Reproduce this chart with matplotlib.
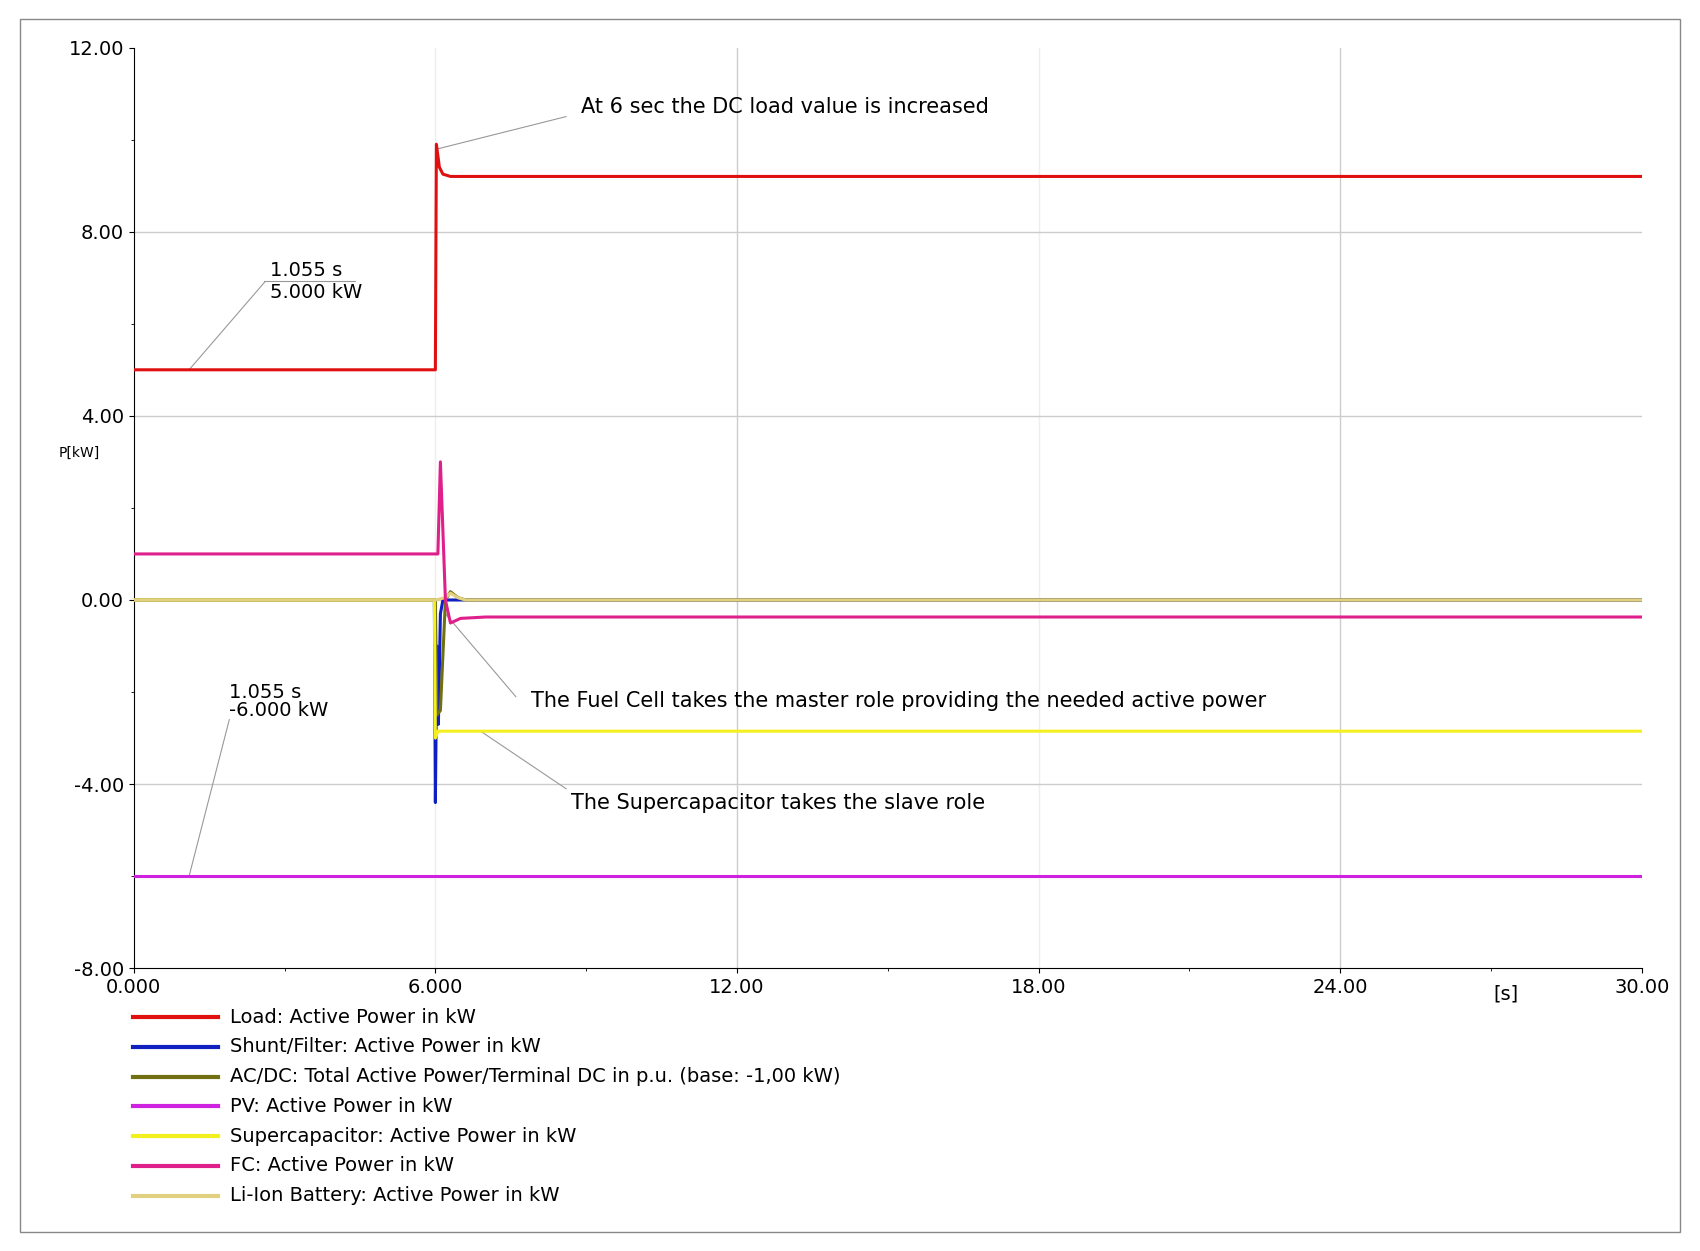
import matplotlib
matplotlib.use("Agg")
import matplotlib.pyplot as plt
import numpy as np

t_load = [0, 6.0, 6.02, 6.08, 6.15, 6.3, 30]
p_load = [5.0, 5.0, 9.9, 9.4, 9.25, 9.2, 9.2]
t_fc = [0, 6.0, 6.05, 6.1, 6.2, 6.3, 6.5, 7, 30]
p_fc = [1.0, 1.0, 1.0, 3.0, 0.0, -0.5, -0.4, -0.37, -0.37]
t_pv = [0, 30]
p_pv = [-6.0, -6.0]
t_sc = [0, 5.98, 6.0, 6.05, 30]
p_sc = [0.0, 0.0, -3.0, -2.85, -2.85]
t_li = [0, 6.0, 6.2, 6.3, 6.45, 6.6, 30]
p_li = [0.0, 0.0, 0.05, 0.15, 0.05, 0.0, 0.0]
t_sh = [0, 5.98, 6.0, 6.03, 6.06, 6.1, 6.15, 30]
p_sh = [0.0, 0.0, -4.4, -1.0, -2.7, -0.3, 0.0, 0.0]
t_ac = [0, 6.0, 6.03, 6.1, 6.2, 6.3, 6.45, 6.6, 30]
p_ac = [0.0, 0.0, -2.5, -2.4, 0.0, 0.18, 0.05, 0.0, 0.0]

labels = ["Load: Active Power in kW", "Shunt/Filter: Active Power in kW",
          "AC/DC: Total Active Power/Terminal DC in p.u. (base: -1,00 kW)",
          "PV: Active Power in kW", "Supercapacitor: Active Power in kW",
          "FC: Active Power in kW", "Li-Ion Battery: Active Power in kW"]
colors = ["#e01010", "#1020c0", "#707010", "#d020e0", "#f4f020", "#e0208a", "#e0d080"]

fig = plt.figure(figsize=(17, 12.51), dpi=100)
fig.patches.append(plt.Rectangle((0.012, 0.015), 0.976, 0.97, transform=fig.transFigure,
                                 fill=False, ec="#888888", lw=1))
ax = fig.add_axes([0.0787, 0.226, 0.887, 0.736])
series = [(t_load, p_load), (t_sh, p_sh), (t_ac, p_ac), (t_pv, p_pv),
          (t_sc, p_sc), (t_fc, p_fc), (t_li, p_li)]
order = [3, 1, 2, 4, 6, 5, 0]
for z, i in enumerate(order):
    t, p = series[i]
    ax.plot(t, p, color=colors[i], lw=2.2, zorder=3 + z)
ax.set_xlim(0, 30)
ax.set_ylim(-8, 12)
ax.set_xticks([0, 6, 12, 18, 24, 30])
ax.set_xticklabels(["0.000", "6.000", "12.00", "18.00", "24.00", "30.00"], fontsize=14)
ax.set_yticks([-8, -4, 0, 4, 8, 12])
ax.set_yticklabels(["-8.00", "-4.00", "0.00", "4.00", "8.00", "12.00"], fontsize=14)
ax.set_xticks([3, 9, 15, 21, 27], minor=True)
ax.set_yticks([-6, -2, 2, 6, 10], minor=True)
for v, c in [(6, "#eeeeee"), (12, "#cccccc"), (18, "#eeeeee"), (24, "#cccccc")]:
    ax.axvline(v, color=c, lw=1, zorder=1)
for v in [-4, 0, 4, 8]:
    ax.axhline(v, color="#cccccc", lw=1, zorder=1)
for s in ["top", "right"]:
    ax.spines[s].set_visible(False)
ax.text(27.3, -8.35, "[s]", fontsize=14, ha="center", va="top")
ax.text(-1.5, 3.2, "P[kW]", fontsize=10, ha="left", va="center")

ann = dict(color="#999999", lw=0.8)
ax.plot([6.05, 8.6], [9.8, 10.5], **ann)
ax.text(8.9, 10.7, "At 6 sec the DC load value is increased", fontsize=15, va="center")
ax.plot([1.1, 2.6], [5.0, 6.9], **ann)
ax.plot([2.6, 4.4], [6.92, 6.92], **ann)
ax.text(2.7, 6.95, "1.055 s", fontsize=14, va="bottom")
ax.text(2.7, 6.88, "5.000 kW", fontsize=14, va="top")
ax.plot([1.1, 1.9], [-6.0, -2.6], **ann)
ax.text(1.9, -2.6, "1.055 s\n-6.000 kW", fontsize=14, va="bottom", linespacing=0.9)
ax.plot([6.2, 7.6], [-0.3, -2.1], **ann)
ax.text(7.9, -2.2, "The Fuel Cell takes the master role providing the needed active power",
        fontsize=15, va="center")
ax.plot([6.9, 8.6], [-2.85, -4.1], **ann)
ax.text(8.7, -4.4, "The Supercapacitor takes the slave role", fontsize=15, va="center")

y0 = 0.187
for k, (lab, c) in enumerate(zip(labels, colors)):
    y = y0 - k * 0.0238
    fig.add_artist(plt.Line2D([0.078, 0.128], [y, y], color=c, lw=3, transform=fig.transFigure))
    fig.text(0.135, y, lab, fontsize=14, va="center")

fig.savefig("out.png", dpi=100)
